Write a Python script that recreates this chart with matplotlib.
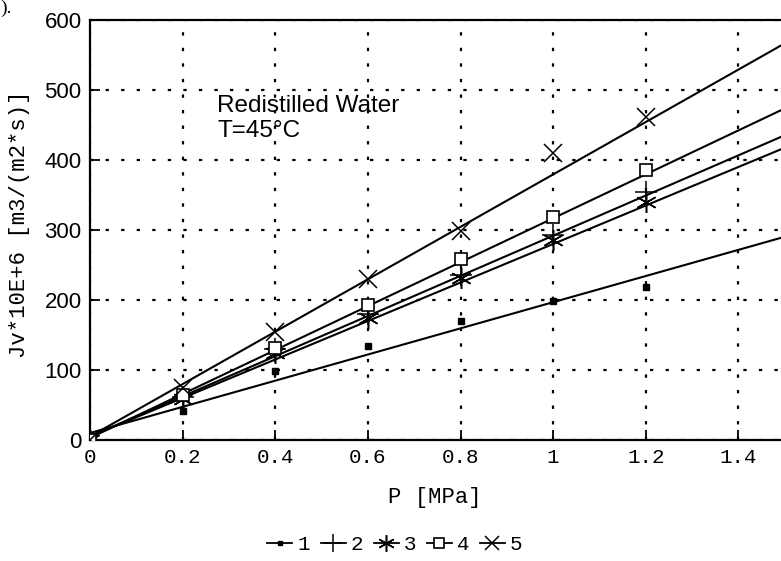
import numpy as np
import matplotlib.pyplot as plt
from matplotlib.lines import Line2D

# pressure (MPa) and flux Jv*10E+6 for the five membranes
p = [0, 0.2, 0.4, 0.6, 0.8, 1.0, 1.2]
jv1 = [0, 42, 98, 135, 170, 198, 218]
jv2 = [0, 62, 130, 180, 236, 293, 354]
jv3 = [0, 58, 125, 175, 231, 286, 340]
jv4 = [0, 65, 132, 193, 258, 318, 386]
jv5 = [0, 75, 155, 230, 298, 410, 461]
labels = ["1", "2", "3", "4", "5"]

# straight fit lines as drawn in the original, read at P=0 and P=1.6
fit_p = [0, 1.6]
fit1 = [10, 309]
fit2 = [5, 464]
fit3 = [5, 445]
fit4 = [3, 505]
fit5 = [5, 604]

mono = "Liberation Mono"
sans = "Liberation Sans"
serif = "Liberation Serif"


def main():
    fig = plt.figure(figsize=(7.81, 5.61), dpi=100)
    # axes run past the right edge like the cropped scan
    ax = fig.add_axes([90 / 781, 121 / 561, 741 / 781, 420 / 561])
    ax.set_xlim(0, 1.6)
    ax.set_ylim(0, 600)

    styles = [
        dict(marker="s", ms=4, mfc="black", mew=1),
        dict(marker="+", ms=16, mew=1.1),
        dict(marker=(6, 2, 0), ms=15, mew=1.1),
        dict(marker="s", ms=9, mfc="white", mew=1.2),
        dict(marker="x", ms=13, mew=1.1),
    ]
    handles = []
    for y, f, st, lab in zip([jv1, jv2, jv3, jv4, jv5],
                             [fit1, fit2, fit3, fit4, fit5], styles, labels):
        ax.plot(fit_p, f, color="black", lw=1.5, zorder=3)
        ax.plot(p, y, ls="none", color="black", zorder=4, **st)
        handles.append(Line2D([], [], color="black", lw=1.3, label=lab,
                              **{**st, "ms": st["ms"] * 0.8}))

    ax.set_xticks([0, 0.2, 0.4, 0.6, 0.8, 1.0, 1.2, 1.4])
    ax.set_xticklabels(["0", "0.2", "0.4", "0.6", "0.8", "1", "1.2", "1.4"],
                       family=mono, fontsize=15)
    ax.set_yticks(range(0, 601, 100))
    ax.set_yticklabels([str(v) for v in range(0, 601, 100)],
                       family=sans, fontsize=16)
    ax.tick_params(direction="in", length=7, width=1.3, pad=6)
    ax.grid(True, color="black", lw=1.6, ls=(0, (1.5, 5.5)))
    for s in ax.spines.values():
        s.set_linewidth(1.6)

    fig.text(20 / 781, 1 - 224 / 561, "Jv*10E+6 [m3/(m2*s)]", family=mono,
             fontsize=16, rotation=90, ha="center", va="center")
    fig.text(435 / 781, 1 - 497 / 561, "P [MPa]", family=mono, fontsize=16,
             ha="center", va="center")
    ax.text(0.172, 0.822, "Redistilled Water\nT=45\u00b0C", transform=ax.transAxes,
            family=sans, fontsize=17.5, va="top", ha="left", linespacing=1.2)
    fig.text(0.0, 1.0, ").", family=serif, fontsize=14, ha="left", va="top")

    fig.legend(handles=handles, loc="center", bbox_to_anchor=(395 / 781, 1 - 545 / 561),
               ncol=5, frameon=False, handlelength=1.2, handletextpad=0.25,
               columnspacing=0.5, prop={"family": mono, "size": 15})

    fig.savefig("out.png", dpi=100)


if __name__ == "__main__":
    main()
